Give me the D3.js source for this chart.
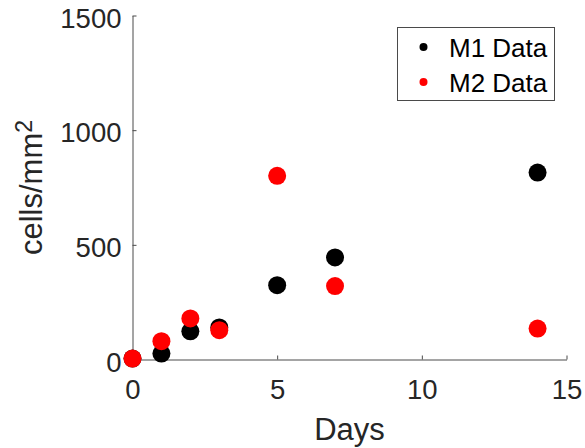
<!DOCTYPE html>
<html>
<head>
<meta charset="utf-8">
<script src="https://cdn.jsdelivr.net/npm/d3@7"></script>
<style>
  html, body { margin: 0; padding: 0; background: #fff; }
  svg { display: block; font-family: "Liberation Sans", Arial, Helvetica, sans-serif; }
</style>
</head>
<body>
<svg id="chart" width="585" height="448"></svg>
<script>
// Cell density over time for two macrophage populations
const days = [0, 1, 2, 3, 5, 7, 14];
const m1Values = [4, 26, 123, 140, 324, 445, 815];
const m2Values = [4, 80, 179, 128, 801, 320, 135];
const seriesNames = ["M1 Data", "M2 Data"];
const seriesColors = ["#000000", "#ff0000"];
const xTicks = [0, 5, 10, 15];
const yTicks = [0, 500, 1000, 1500];

const svg = d3.select("#chart");
const ink = "#262626";

const x = d3.scaleLinear().domain([0, 15]).range([132.5, 566.5]);
const y = d3.scaleLinear().domain([0, 1500]).range([359.5, 15.5]);

// Axes: left and bottom only, ticks pointing inward
const xAxis = svg.append("g")
  .attr("transform", `translate(0,${y(0)})`)
  .call(d3.axisBottom(x).tickValues(xTicks).tickFormat(d3.format("d"))
    .tickSizeInner(-4).tickSizeOuter(0).tickPadding(20));

const yAxis = svg.append("g")
  .attr("transform", `translate(${x(0)},0)`)
  .call(d3.axisLeft(y).tickValues(yTicks).tickFormat(d3.format("d"))
    .tickSizeInner(-4).tickSizeOuter(0).tickPadding(11));

[xAxis, yAxis].forEach(g => {
  g.attr("font-family", null).attr("font-size", null);
  g.select(".domain").attr("stroke", "#4a4a4a").attr("stroke-width", 1);
  g.selectAll(".tick line").attr("stroke", "#4a4a4a").attr("stroke-width", 1);
  g.selectAll(".tick text").attr("fill", ink).style("font-size", "27.5px");
});
yAxis.selectAll(".tick text").attr("dy", "0.43em");

// Axis titles
svg.append("text")
  .attr("x", x(7.5))
  .attr("y", 440)
  .attr("text-anchor", "middle")
  .attr("fill", ink)
  .style("font-size", "31px")
  .text("Days");

const yTitle = svg.append("text")
  .attr("transform", `translate(42,${(y(0) + y(1500)) / 2}) rotate(-90)`)
  .attr("text-anchor", "middle")
  .attr("fill", ink)
  .style("font-size", "31px");
yTitle.append("tspan").text("cells/mm");
yTitle.append("tspan").attr("dy", "-10").style("font-size", "23px").text("2");

// Data points: M1 first, M2 drawn over it
const series = [m1Values, m2Values];
series.forEach((vals, i) => {
  svg.append("g")
    .selectAll("circle")
    .data(days.map((d, j) => ({ day: d, value: vals[j] })))
    .join("circle")
    .attr("cx", d => x(d.day))
    .attr("cy", d => y(d.value))
    .attr("r", 9)
    .attr("fill", seriesColors[i]);
});

// Legend
const legend = svg.append("g");
legend.append("rect")
  .attr("x", 397.5).attr("y", 27.5)
  .attr("width", 157).attr("height", 73)
  .attr("fill", "#fff")
  .attr("stroke", "#4a4a4a")
  .attr("stroke-width", 1);
const rowY = [47, 82];
seriesNames.forEach((name, i) => {
  legend.append("circle")
    .attr("cx", 423.5).attr("cy", rowY[i])
    .attr("r", 4)
    .attr("fill", seriesColors[i]);
  legend.append("text")
    .attr("x", 449).attr("y", rowY[i] + 10)
    .attr("fill", "#000")
    .style("font-size", "26px")
    .text(name);
});
</script>
</body>
</html>
